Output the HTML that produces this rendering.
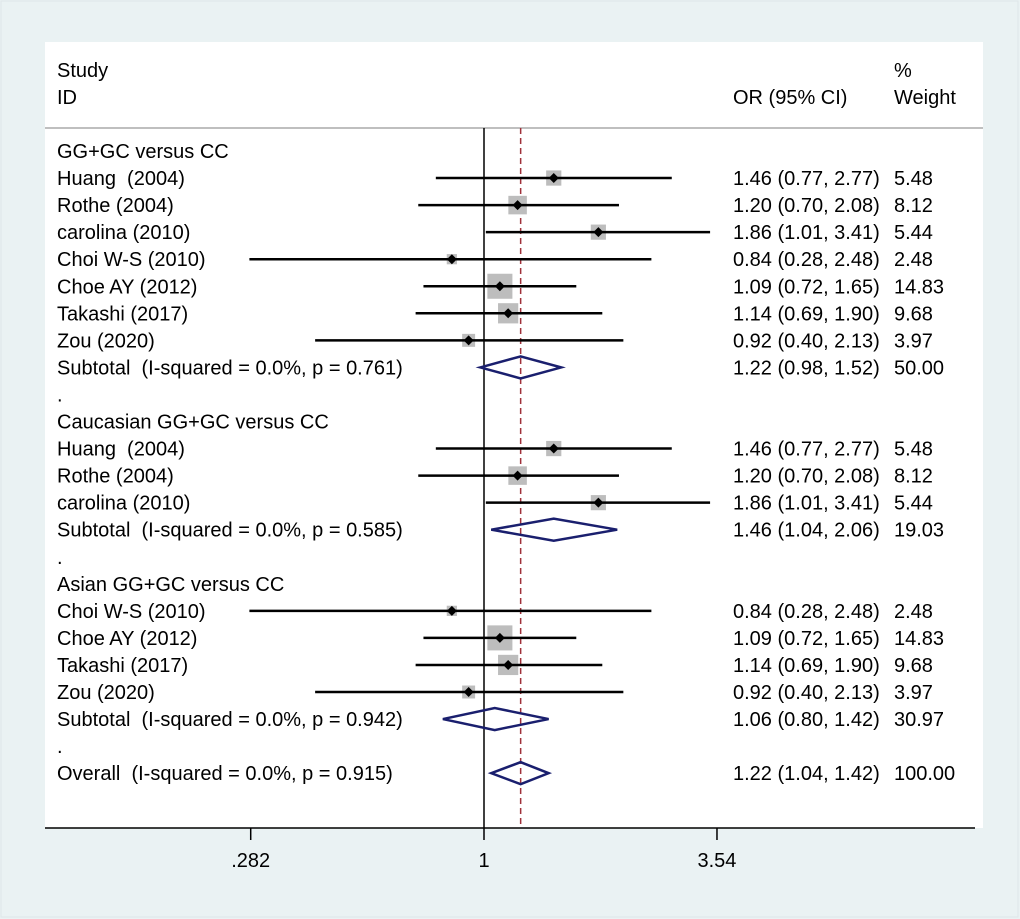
<!DOCTYPE html>
<html><head><meta charset="utf-8"><style>
html,body{margin:0;padding:0;background:#eaf2f3;}
svg{display:block;font-family:"Liberation Sans",Arial,sans-serif;}
text{white-space:pre;}
</style></head><body>
<svg id="chart" width="1020" height="919" viewBox="0 0 1020 919">
<rect x="1" y="1" width="1017" height="916" fill="#eaf2f3" stroke="#dfe6e8"/>
<rect x="45" y="42" width="938" height="786" fill="#fff"/>
<g font-size="20" fill="#000">
<text x="57" y="77">Study</text>
<text x="57" y="104">ID</text>
<text x="733" y="104">OR (95% CI)</text>
<text x="894" y="77">%</text>
<text x="894" y="104">Weight</text>
</g>
<line x1="45" y1="128" x2="983" y2="128" stroke="#aaa" stroke-width="1.5"/>
<g id="marks"></g>
</svg>
<script>
const rowLabels = ["GG+GC versus CC","Huang  (2004)","Rothe (2004)","carolina (2010)","Choi W-S (2010)","Choe AY (2012)","Takashi (2017)","Zou (2020)","Subtotal  (I-squared = 0.0%, p = 0.761)",".","Caucasian GG+GC versus CC","Huang  (2004)","Rothe (2004)","carolina (2010)","Subtotal  (I-squared = 0.0%, p = 0.585)",".","Asian GG+GC versus CC","Choi W-S (2010)","Choe AY (2012)","Takashi (2017)","Zou (2020)","Subtotal  (I-squared = 0.0%, p = 0.942)",".","Overall  (I-squared = 0.0%, p = 0.915)"];
const rowTypes = ["h","s","s","s","s","s","s","s","d","h","h","s","s","s","d","h","h","s","s","s","s","d","h","d"];
const orVals = [null,1.46,1.20,1.86,0.84,1.09,1.14,0.92,1.22,null,null,1.46,1.20,1.86,1.46,null,null,0.84,1.09,1.14,0.92,1.06,null,1.22];
const lowVals = [null,0.77,0.70,1.01,0.28,0.72,0.69,0.40,0.98,null,null,0.77,0.70,1.01,1.04,null,null,0.28,0.72,0.69,0.40,0.80,null,1.04];
const highVals = [null,2.77,2.08,3.41,2.48,1.65,1.90,2.13,1.52,null,null,2.77,2.08,3.41,2.06,null,null,2.48,1.65,1.90,2.13,1.42,null,1.42];
const weights = [null,5.48,8.12,5.44,2.48,14.83,9.68,3.97,50.00,null,null,5.48,8.12,5.44,19.03,null,null,2.48,14.83,9.68,3.97,30.97,null,100.00];
const tickVals = [0.282,1,3.54];
const tickLabels = [".282","1","3.54"];
const overallEffect = 1.22;

const NS="http://www.w3.org/2000/svg";
const g=document.getElementById('marks');
const xs=v=>484+184.3*Math.log(v);
const ys=i=>151+i*27.05;
function mk(t,a){const e=document.createElementNS(NS,t);for(const k in a)e.setAttribute(k,a[k]);g.appendChild(e);return e;}
const f2=v=>v.toFixed(2);

let e=mk('line',{x1:xs(1),y1:128,x2:xs(1),y2:828,stroke:'#000','stroke-width':1.5});


e=mk('line',{x1:xs(overallEffect),y1:128,x2:xs(overallEffect),y2:828,stroke:'#a0303a','stroke-width':1.5,'stroke-dasharray':'6,4'});



rowLabels.forEach((lab,i)=>{
  const y=ys(i);
  let t=mk('text',{x:57,y:y+7,'font-size':20});
  t.textContent=lab;
  
  
  if(orVals[i]==null)return;
  if(rowTypes[i]==='s'){
    const s=6.5*Math.sqrt(weights[i]);
    let b=mk('rect',{x:xs(orVals[i])-s/2,y:y-s/2,width:s,height:s,fill:'#bdbdbd'});
    
    
    let l=mk('line',{x1:xs(lowVals[i]),y1:y,x2:xs(highVals[i]),y2:y,stroke:'#000','stroke-width':2.5});
    
    
    const c=xs(orVals[i]);
    let d=mk('polygon',{points:`${c-5},${y} ${c},${y-5} ${c+5},${y} ${c},${y+5}`,fill:'#000'});
    
    
  } else {
    const c=xs(orVals[i]),a=xs(lowVals[i]),b2=xs(highVals[i]);
    let d=mk('polygon',{points:`${a},${y} ${c},${y-11} ${b2},${y} ${c},${y+11}`,fill:'none',stroke:'#1a1f6e','stroke-width':2.5});
    
    
  }
  let o=mk('text',{x:733,y:y+7,'font-size':20});
  o.textContent=`${f2(orVals[i])} (${f2(lowVals[i])}, ${f2(highVals[i])})`;
  
  
  let w=mk('text',{x:894,y:y+7,'font-size':20});
  w.textContent=f2(weights[i]);
  
  
});

e=mk('line',{x1:45,y1:828,x2:975,y2:828,stroke:'#000','stroke-width':1.5});


tickVals.forEach((v,i)=>{
  let l=mk('line',{x1:xs(v),y1:828,x2:xs(v),y2:840,stroke:'#000','stroke-width':1.5});
  
  
  let t=mk('text',{x:xs(v),y:867,'font-size':20,'text-anchor':'middle'});
  t.textContent=tickLabels[i];
  
  
});
</script>
</body></html>
